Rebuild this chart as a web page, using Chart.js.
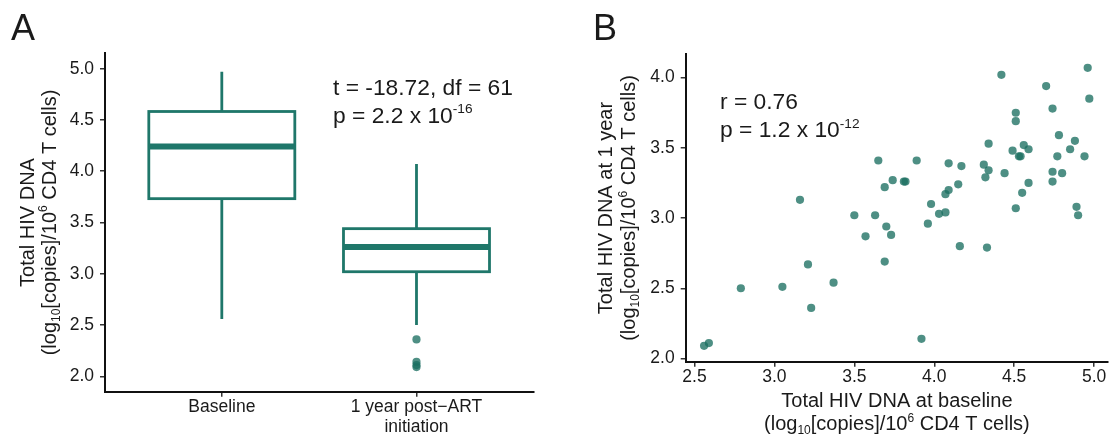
<!DOCTYPE html>
<html>
<head>
<meta charset="utf-8">
<script src="https://cdn.jsdelivr.net/npm/chart.js@4.4.1/dist/chart.umd.min.js"></script>
<style>
  html, body { margin: 0; padding: 0; background: #fff; }
  #wrap { position: relative; width: 1117px; height: 441px; }
  canvas { position: absolute; top: 0; }
  #boxChart { left: 0; }
  #scatChart { left: 560px; }
</style>
</head>
<body>
<div id="wrap">
  <canvas id="boxChart" width="560" height="441"></canvas>
  <canvas id="scatChart" width="557" height="441"></canvas>
</div>
<script>
// Total HIV DNA per participant (log10 copies / 10^6 CD4 T cells)
const baseline = [2.56, 2.59, 2.79, 3.05, 3.16, 3.21, 3.23, 3.37, 3.50, 3.57, 3.63, 3.65,
  3.69, 3.70, 3.69, 3.73, 3.74, 3.81, 3.82, 3.89, 3.92, 3.96, 3.98, 4.03, 4.07, 4.07,
  4.09, 4.09, 4.15, 4.16, 4.17, 4.31, 4.32, 4.33, 4.34, 4.34, 4.42, 4.44, 4.49, 4.51,
  4.51, 4.51, 4.53, 4.54, 4.56, 4.59, 4.55, 4.59, 4.70, 4.74, 4.74, 4.74, 4.78, 4.77,
  4.80, 4.85, 4.88, 4.89, 4.90, 4.94, 4.96, 4.97];
const oneYear = [2.09, 2.11, 2.50, 2.51, 3.13, 2.67, 2.36, 2.54, 3.02, 2.87, 3.02, 3.41,
  3.22, 2.94, 2.69, 2.88, 3.27, 3.26, 3.26, 3.41, 2.14, 2.96, 3.10, 3.03, 3.04, 3.17,
  3.20, 3.39, 3.24, 2.80, 3.37, 3.38, 3.29, 2.79, 3.34, 3.53, 4.02, 3.32, 3.48, 3.75,
  3.69, 3.07, 3.44, 3.44, 3.52, 3.49, 3.18, 3.25, 3.94, 3.78, 3.33, 3.26, 3.59, 3.44,
  3.32, 3.49, 3.55, 3.08, 3.02, 3.44, 4.07, 3.85];

const groupLabels = ['Baseline', ['1 year post\u2212ART', 'initiation']];
const boxYTicks = [2.0, 2.5, 3.0, 3.5, 4.0, 4.5, 5.0];
const scatXTicks = [2.5, 3.0, 3.5, 4.0, 4.5, 5.0];
const scatYTicks = [2.0, 2.5, 3.0, 3.5, 4.0];

const TEAL = '#1f776a';
const POINT = 'rgba(28,112,97,0.78)';
const TEXT = '#1a1a1a';
const FONT = '"Liberation Sans", Arial, Helvetica, sans-serif';

// ggplot-style box stats (type 7 quantiles, 1.5 IQR whiskers)
function quantile(sorted, p) {
  const h = (sorted.length - 1) * p, lo = Math.floor(h);
  return lo + 1 < sorted.length ? sorted[lo] + (h - lo) * (sorted[lo + 1] - sorted[lo]) : sorted[lo];
}
function boxStats(values) {
  const s = [...values].sort((a, b) => a - b);
  const q1 = quantile(s, 0.25), med = quantile(s, 0.5), q3 = quantile(s, 0.75);
  const iqr = q3 - q1, loF = q1 - 1.5 * iqr, hiF = q3 + 1.5 * iqr;
  const inside = s.filter(v => v >= loF && v <= hiF);
  return { q1, med, q3, lo: inside[0], hi: inside[inside.length - 1],
           out: s.filter(v => v < loF || v > hiF) };
}
const stats = [baseline, oneYear].map(boxStats);

function drawRich(ctx, item) {
  const { parts, x, y, size, align = 'left', rotate = false } = item;
  ctx.save();
  ctx.translate(x, y);
  if (rotate) ctx.rotate(-Math.PI / 2);
  ctx.fillStyle = TEXT;
  ctx.textBaseline = 'alphabetic';
  ctx.textAlign = 'left';
  const segs = parts.map(p => {
    const [t, kind] = Array.isArray(p) ? p : [p, ''];
    const s = kind ? size * 0.6 : size;
    ctx.font = s + 'px ' + FONT;
    const dy = kind === 'sub' ? size * 0.22 : kind === 'sup' ? -size * 0.42 : 0;
    return { t, s, dy, w: ctx.measureText(t).width };
  });
  const total = segs.reduce((a, g) => a + g.w, 0);
  let cx = align === 'center' ? -total / 2 : 0;
  segs.forEach(g => {
    ctx.font = g.s + 'px ' + FONT;
    ctx.fillText(g.t, cx, g.dy);
    cx += g.w;
  });
  ctx.restore();
}

const richText = items => ({
  id: 'richText',
  afterDraw(chart) { items.forEach(it => drawRich(chart.ctx, it)); }
});

const boxPlugin = {
  id: 'boxes',
  beforeDatasetsDraw(chart) {
    const { ctx, scales: { x, y } } = chart;
    ctx.save();
    ctx.strokeStyle = TEAL;
    ctx.lineJoin = 'miter';
    stats.forEach((s, i) => {
      const cx = x.getPixelForValue(i + 1);
      const half = x.getPixelForValue(i + 1.375) - cx;
      const top = y.getPixelForValue(s.q3), bot = y.getPixelForValue(s.q1);
      ctx.lineWidth = 2.8;
      ctx.beginPath();
      ctx.moveTo(cx, y.getPixelForValue(s.hi)); ctx.lineTo(cx, top);
      ctx.moveTo(cx, bot); ctx.lineTo(cx, y.getPixelForValue(s.lo));
      ctx.stroke();
      ctx.fillStyle = '#fff';
      ctx.fillRect(cx - half, top, 2 * half, bot - top);
      ctx.strokeRect(cx - half, top, 2 * half, bot - top);
      const m = y.getPixelForValue(s.med);
      ctx.lineWidth = 6;
      ctx.beginPath(); ctx.moveTo(cx - half, m); ctx.lineTo(cx + half, m); ctx.stroke();
    });
    ctx.restore();
  }
};

const tickFont = { family: FONT, size: 17.5, lineHeight: 1.15 };
function axis(min, max, tickVals, fmt, extra) {
  return Object.assign({
    type: 'linear', min, max,
    afterBuildTicks: sc => { sc.ticks = tickVals.map(v => ({ value: v })); },
    ticks: { color: TEXT, font: tickFont, padding: 6, callback: fmt, maxRotation: 0, autoSkip: false },
    grid: { drawOnChartArea: false, drawTicks: true, tickLength: 5, color: '#333', lineWidth: 1.5 },
    border: { display: true, color: '#111', width: 2 }
  }, extra);
}
const oneDec = v => v.toFixed(1);

const common = {
  responsive: false,
  animation: false,
  plugins: { legend: { display: false }, tooltip: { enabled: false } }
};

// Panel A: box plot
new Chart(document.getElementById('boxChart'), {
  type: 'scatter',
  data: {
    datasets: [{
      data: stats.flatMap((s, i) => s.out.map(v => ({ x: i + 1, y: v }))),
      backgroundColor: POINT, borderWidth: 0, pointRadius: 4.1
    }]
  },
  options: Object.assign({}, common, {
    layout: { padding: { left: 0, right: 26.7, top: 53.3, bottom: 0 } },
    scales: {
      x: axis(0.4, 2.6, [1, 2], v => groupLabels[v - 1], {
        afterFit: sc => { sc.height = 49.3; },
        ticks: { color: TEXT, font: tickFont, padding: 0, callback: v => groupLabels[v - 1], maxRotation: 0, autoSkip: false }
      }),
      y: axis(1.85, 5.15, boxYTicks, oneDec, { afterFit: sc => { sc.width = 105; } })
    }
  }),
  plugins: [boxPlugin, richText([
    { parts: ['A'], x: 11, y: 40, size: 36 },
    { parts: ['t = -18.72, df = 61'], x: 333, y: 95, size: 22.8 },
    { parts: ['p = 2.2 x 10', ['-16', 'sup']], x: 333, y: 122.5, size: 22.8 },
    { parts: ['Total HIV DNA'], x: 33.5, y: 222.5, size: 20, rotate: true, align: 'center' },
    { parts: ['(log', ['10', 'sub'], '[copies]/10', ['6', 'sup'], ' CD4 T cells)'],
      x: 55.5, y: 222.5, size: 20, rotate: true, align: 'center' }
  ])]
});

// Panel B: scatter
new Chart(document.getElementById('scatChart'), {
  type: 'scatter',
  data: {
    datasets: [{
      data: baseline.map((v, i) => ({ x: v, y: oneYear[i] })),
      backgroundColor: POINT, borderWidth: 0, pointRadius: 4.1
    }]
  },
  options: Object.assign({}, common, {
    layout: { padding: { left: 0, right: 9, top: 53.5, bottom: 0 } },
    scales: {
      x: axis(2.445, 5.087, scatXTicks, oneDec, {
        afterFit: sc => { sc.height = 79.3; },
        ticks: { color: TEXT, font: tickFont, padding: 0, callback: oneDec, maxRotation: 0, autoSkip: false }
      }),
      y: axis(1.977, 4.172, scatYTicks, oneDec, { afterFit: sc => { sc.width = 125.7; } })
    }
  }),
  plugins: [richText([
    { parts: ['B'], x: 33, y: 40, size: 36 },
    { parts: ['r = 0.76'], x: 160, y: 109.3, size: 22.8 },
    { parts: ['p = 1.2 x 10', ['-12', 'sup']], x: 160, y: 137.3, size: 22.8 },
    { parts: ['Total HIV DNA at baseline'], x: 336.9, y: 407.3, size: 20, align: 'center' },
    { parts: ['(log', ['10', 'sub'], '[copies]/10', ['6', 'sup'], ' CD4 T cells)'],
      x: 336.9, y: 430, size: 20, align: 'center' },
    { parts: ['Total HIV DNA at 1 year'], x: 52, y: 208, size: 20, rotate: true, align: 'center' },
    { parts: ['(log', ['10', 'sub'], '[copies]/10', ['6', 'sup'], ' CD4 T cells)'],
      x: 75, y: 208, size: 20, rotate: true, align: 'center' }
  ])]
});
</script>
</body>
</html>
